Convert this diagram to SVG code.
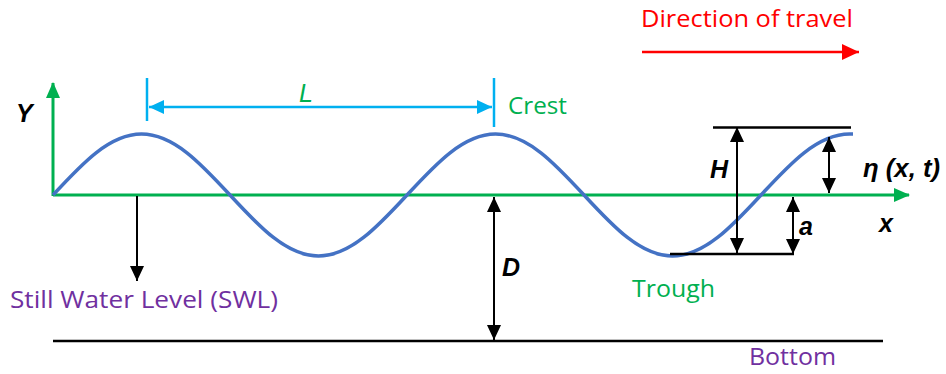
<svg xmlns="http://www.w3.org/2000/svg" width="946" height="374" viewBox="0 0 946 374">
<style>
.lbl{font-family:"Open Sans","Liberation Sans",sans-serif;font-size:24px}
.sym{font-family:"Liberation Sans",Arial,sans-serif;font-size:25px;font-weight:bold;font-style:italic;fill:#000}
.blkd{stroke:#000;stroke-width:2;fill:none}
</style>
<defs>
<marker id="ab" markerUnits="userSpaceOnUse" markerWidth="16" markerHeight="16" viewBox="0 0 16 16" refX="15" refY="8" orient="auto-start-reverse"><path d="M0,1 L15,8 L0,15 Z" fill="#000"/></marker>
<marker id="ag" markerUnits="userSpaceOnUse" markerWidth="16" markerHeight="16" viewBox="0 0 16 16" refX="15" refY="8" orient="auto"><path d="M0,1 L16,8 L0,15 Z" fill="#00B050"/></marker>
<marker id="ac" markerUnits="userSpaceOnUse" markerWidth="16" markerHeight="16" viewBox="0 0 16 16" refX="15" refY="8" orient="auto-start-reverse"><path d="M0,1 L15,8 L0,15 Z" fill="#00B0F0"/></marker>
<marker id="ar" markerUnits="userSpaceOnUse" markerWidth="18" markerHeight="18" viewBox="0 0 18 18" refX="17" refY="9" orient="auto"><path d="M0,1 L17,9 L0,17 Z" fill="#FF0000"/></marker>
</defs>

<g id="axes">
<line x1="53" y1="196" x2="53" y2="83" stroke="#00B050" stroke-width="3" marker-end="url(#ag)"/>
<line x1="53" y1="195" x2="909" y2="195" stroke="#00B050" stroke-width="3" marker-end="url(#ag)"/>
</g>

<g id="bottom-line">
<line x1="53" y1="341" x2="883" y2="341" stroke="#000" stroke-width="2.5"/>
</g>

<g id="wave">
<path d="M53,195 C81.89,163.72 109.47,134 141.5,134 C173.53,134 201.11,163.72 230,195 C258.89,226.28 286.47,256 318.5,256 C350.53,256 378.11,226.28 407,195 C435.89,163.72 463.47,134 495.5,134 C527.53,134 555.11,163.72 584,195 C612.89,226.28 640.47,256 672.5,256 C704.53,256 732.11,226.28 761,195 C789.89,163.72 817.47,134 849.5,134 L853,134" stroke="#4472C4" stroke-width="3.5" fill="none"/>
</g>

<g id="reference-lines">
<line x1="713" y1="127.5" x2="851" y2="127.5" stroke="#000" stroke-width="2.5"/>
<line x1="670" y1="254" x2="794" y2="254" stroke="#000" stroke-width="2.5"/>
<line x1="147" y1="78" x2="147" y2="121" stroke="#00B0F0" stroke-width="2.5"/>
<line x1="494" y1="78" x2="494" y2="127" stroke="#00B0F0" stroke-width="2.5"/>
</g>

<g id="connectors">
<line x1="149" y1="107" x2="492" y2="107" stroke="#00B0F0" stroke-width="2.5" marker-start="url(#ac)" marker-end="url(#ac)"/>
<line class="blkd" x1="137" y1="196" x2="137" y2="281" marker-end="url(#ab)"/>
<line class="blkd" x1="494" y1="197" x2="494" y2="340" marker-start="url(#ab)" marker-end="url(#ab)"/>
<line class="blkd" x1="737" y1="127" x2="737" y2="253" marker-start="url(#ab)" marker-end="url(#ab)"/>
<line class="blkd" x1="793" y1="197" x2="793" y2="254" marker-start="url(#ab)" marker-end="url(#ab)"/>
<line class="blkd" x1="829" y1="137" x2="829" y2="193" marker-start="url(#ab)" marker-end="url(#ab)"/>
<line x1="642" y1="52" x2="859" y2="52" stroke="#FF0000" stroke-width="2.5" marker-end="url(#ar)"/>
</g>

<g id="labels">
<text class="lbl" x="641" y="27" fill="#FF0000" textLength="212" lengthAdjust="spacingAndGlyphs">Direction of travel</text>
<text class="lbl" x="508" y="114" fill="#00B050" textLength="59" lengthAdjust="spacingAndGlyphs">Crest</text>
<text class="lbl" x="632" y="297" fill="#00B050" textLength="83" lengthAdjust="spacingAndGlyphs">Trough</text>
<text class="lbl" x="10" y="308" fill="#7030A0" textLength="268" lengthAdjust="spacingAndGlyphs">Still Water Level (SWL)</text>
<text class="lbl" x="749" y="365" fill="#7030A0" textLength="87" lengthAdjust="spacingAndGlyphs">Bottom</text>
<text x="299" y="102" font-family="Liberation Sans,Arial,sans-serif" font-size="25" font-style="italic" fill="#00B050">L</text>
<text class="sym" x="16" y="122">Y</text>
<text class="sym" x="710" y="178">H</text>
<text class="sym" x="502" y="276">D</text>
<text class="sym" x="799" y="235">a</text>
<text class="sym" x="879" y="232">x</text>
<text class="sym" x="863" y="177" textLength="77" lengthAdjust="spacingAndGlyphs">η (x, t)</text>
</g>
</svg>
